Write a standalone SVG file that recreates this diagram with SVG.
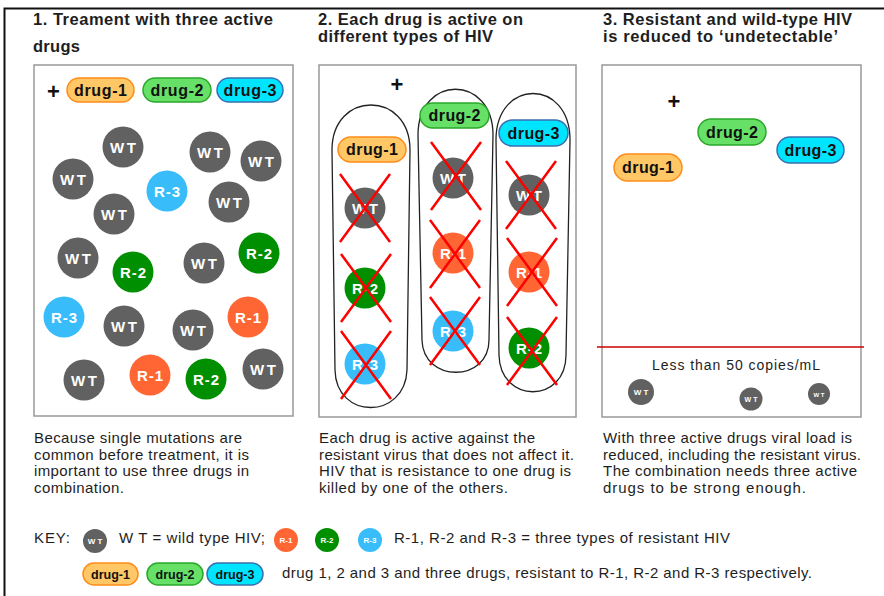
<svg xmlns="http://www.w3.org/2000/svg" width="884" height="596" viewBox="0 0 884 596">
<style>
text{font-family:"Liberation Sans",Arial,sans-serif;fill:#1e1e1e}
.title{font-size:16.5px;font-weight:bold}
.body{font-size:15px}
.box{fill:#fff;stroke:#999;stroke-width:1.5}
.wt{fill:#616161}
.r1{fill:#FF6633}
.r2{fill:#008F00}
.r3{fill:#38BDFA}
.cl{font-size:15px;font-weight:bold;fill:#fff;text-anchor:middle}
.ck{font-size:8px;font-weight:bold;fill:#fff;text-anchor:middle}
.d1{fill:#FFC766;stroke:#FF8C1A;stroke-width:1.5}
.d2{fill:#66E066;stroke:#2BA82B;stroke-width:1.5}
.d3{fill:#00E5FF;stroke:#3A6FB0;stroke-width:1.5}
.dl{font-size:16px;font-weight:bold;text-anchor:middle;fill:#111}
.dk{font-size:12.5px;font-weight:bold;text-anchor:middle;fill:#111}
.plus{font-size:22px;font-weight:bold;text-anchor:middle;fill:#111}
.x{stroke:#FF0000;stroke-width:2.5;fill:none}
.col{fill:none;stroke:#222;stroke-width:1.3}
</style>
<defs>
<path id="xm" d="M-25,-34 L25,34 M25,-34 L-25,34"/>
</defs>

<path d="M4.5,596 V8.5 H884" fill="none" stroke="#111" stroke-width="2"/>

<g id="titles">
<text class="title" x="33" y="25" textLength="240" lengthAdjust="spacing">1. Treament with three active</text>
<text class="title" x="33" y="52" textLength="47" lengthAdjust="spacing">drugs</text>
<text class="title" x="318" y="25" textLength="205" lengthAdjust="spacing">2. Each drug is active on</text>
<text class="title" x="318" y="42" textLength="175" lengthAdjust="spacing">different types of HIV</text>
<text class="title" x="603" y="25" textLength="249" lengthAdjust="spacing">3. Resistant and wild-type HIV</text>
<text class="title" x="603" y="42" textLength="235" lengthAdjust="spacing">is reduced to ‘undetectable’</text>
</g>

<!-- Panel 1 -->
<g id="panel1">
<rect class="box" x="34" y="65" width="259" height="351"/>
<text class="plus" x="53.5" y="99">+</text>
<g id="p1-drug1"><rect class="d1" x="67" y="78" width="67" height="24" rx="12"/><text class="dl" x="100.5" y="95.5" textLength="53" lengthAdjust="spacing">drug-1</text></g>
<g id="p1-drug2"><rect class="d2" x="143" y="78" width="68" height="24" rx="12"/><text class="dl" x="177" y="95.5" textLength="53" lengthAdjust="spacing">drug-2</text></g>
<g id="p1-drug3"><rect class="d3" x="217" y="78" width="66" height="24" rx="12"/><text class="dl" x="250" y="95.5" textLength="53" lengthAdjust="spacing">drug-3</text></g>
<g id="p1-v1"><circle class="wt" cx="123" cy="147" r="20.5"/><text class="cl" x="123" y="152.5" textLength="26">W T</text></g>
<g id="p1-v2"><circle class="wt" cx="73" cy="179" r="20.5"/><text class="cl" x="73" y="184.5" textLength="26">W T</text></g>
<g id="p1-v3"><circle class="r3" cx="167" cy="191" r="20.5"/><text class="cl" x="167" y="196.5" textLength="26">R-3</text></g>
<g id="p1-v4"><circle class="wt" cx="210" cy="152" r="20.5"/><text class="cl" x="210" y="157.5" textLength="26">W T</text></g>
<g id="p1-v5"><circle class="wt" cx="261" cy="161" r="20.5"/><text class="cl" x="261" y="166.5" textLength="26">W T</text></g>
<g id="p1-v6"><circle class="wt" cx="229" cy="202" r="20.5"/><text class="cl" x="229" y="207.5" textLength="26">W T</text></g>
<g id="p1-v7"><circle class="wt" cx="114" cy="214" r="20.5"/><text class="cl" x="114" y="219.5" textLength="26">W T</text></g>
<g id="p1-v8"><circle class="wt" cx="78" cy="258" r="20.5"/><text class="cl" x="78" y="263.5" textLength="26">W T</text></g>
<g id="p1-v9"><circle class="r2" cx="133" cy="272" r="20.5"/><text class="cl" x="133" y="277.5" textLength="26">R-2</text></g>
<g id="p1-v10"><circle class="wt" cx="204" cy="263" r="20.5"/><text class="cl" x="204" y="268.5" textLength="26">W T</text></g>
<g id="p1-v11"><circle class="r2" cx="259" cy="253" r="20.5"/><text class="cl" x="259" y="258.5" textLength="26">R-2</text></g>
<g id="p1-v12"><circle class="r3" cx="64" cy="317" r="20.5"/><text class="cl" x="64" y="322.5" textLength="26">R-3</text></g>
<g id="p1-v13"><circle class="wt" cx="124" cy="326" r="20.5"/><text class="cl" x="124" y="331.5" textLength="26">W T</text></g>
<g id="p1-v14"><circle class="wt" cx="193" cy="330" r="20.5"/><text class="cl" x="193" y="335.5" textLength="26">W T</text></g>
<g id="p1-v15"><circle class="r1" cx="248" cy="317" r="20.5"/><text class="cl" x="248" y="322.5" textLength="26">R-1</text></g>
<g id="p1-v16"><circle class="wt" cx="84" cy="380" r="20.5"/><text class="cl" x="84" y="385.5" textLength="26">W T</text></g>
<g id="p1-v17"><circle class="r1" cx="150" cy="375" r="20.5"/><text class="cl" x="150" y="380.5" textLength="26">R-1</text></g>
<g id="p1-v18"><circle class="r2" cx="206" cy="379" r="20.5"/><text class="cl" x="206" y="384.5" textLength="26">R-2</text></g>
<g id="p1-v19"><circle class="wt" cx="263" cy="369" r="20.5"/><text class="cl" x="263" y="374.5" textLength="26">W T</text></g>
</g>

<!-- Panel 2 -->
<g id="panel2">
<rect class="box" x="319" y="65" width="257" height="352"/>
<text class="plus" x="397" y="92">+</text>
<g id="p2-col1">
<path class="col" d="M332,150 C332,90 410,90 410,150 L407,370 C405,420 336,420 335,370 Z"/>
<rect class="d1" x="338" y="137" width="68" height="25" rx="12.5"/><text class="dl" x="372" y="155" textLength="52" lengthAdjust="spacing">drug-1</text>
<circle class="wt" cx="365" cy="208" r="20.5"/><text class="cl" x="365" y="213.5" textLength="26">W T</text>
<circle class="r2" cx="365" cy="288" r="20.5"/><text class="cl" x="365" y="293.5" textLength="26">R-2</text>
<circle class="r3" cx="365" cy="364" r="20.5"/><text class="cl" x="365" y="369.5" textLength="26">R-3</text>
<use href="#xm" class="x" x="365" y="208"/>
<use href="#xm" class="x" x="366" y="288"/>
<use href="#xm" class="x" x="366" y="365"/>
</g>
<g id="p2-col2">
<path class="col" d="M418,135 C418,74 493,74 493,135 L489,340 C489,383 423,383 422,340 Z"/>
<rect class="d2" x="420" y="103" width="69" height="25" rx="12.5"/><text class="dl" x="454.5" y="121" textLength="52" lengthAdjust="spacing">drug-2</text>
<circle class="wt" cx="453" cy="178" r="20.5"/><text class="cl" x="453" y="183.5" textLength="26">W T</text>
<circle class="r1" cx="453" cy="253" r="20.5"/><text class="cl" x="453" y="258.5" textLength="26">R-1</text>
<circle class="r3" cx="453" cy="331" r="20.5"/><text class="cl" x="453" y="336.5" textLength="26">R-3</text>
<use href="#xm" class="x" x="456" y="176"/>
<use href="#xm" class="x" x="455" y="254"/>
<use href="#xm" class="x" x="455" y="331"/>
</g>
<g id="p2-col3">
<path class="col" d="M496,140 C496,78 570,78 570,140 L566,355 C566,404 500,404 499,355 Z"/>
<rect class="d3" x="499" y="120" width="69" height="26" rx="13"/><text class="dl" x="533.5" y="138.5" textLength="52" lengthAdjust="spacing">drug-3</text>
<circle class="wt" cx="529" cy="195" r="20.5"/><text class="cl" x="529" y="200.5" textLength="26">W T</text>
<circle class="r1" cx="529" cy="272" r="20.5"/><text class="cl" x="529" y="277.5" textLength="26">R-1</text>
<circle class="r2" cx="529" cy="348" r="20.5"/><text class="cl" x="529" y="353.5" textLength="26">R-2</text>
<use href="#xm" class="x" x="531" y="195"/>
<use href="#xm" class="x" x="532" y="272"/>
<use href="#xm" class="x" x="532" y="351"/>
</g>
</g>

<!-- Panel 3 -->
<g id="panel3">
<rect class="box" x="602" y="65" width="259" height="352"/>
<text class="plus" x="674" y="109">+</text>
<g id="p3-drug2"><rect class="d2" x="698" y="119" width="68" height="26" rx="13"/><text class="dl" x="732" y="137.5" textLength="52" lengthAdjust="spacing">drug-2</text></g>
<g id="p3-drug3"><rect class="d3" x="777" y="137" width="67" height="26" rx="13"/><text class="dl" x="810.5" y="155.5" textLength="52" lengthAdjust="spacing">drug-3</text></g>
<g id="p3-drug1"><rect class="d1" x="614" y="154" width="68" height="27" rx="13.5"/><text class="dl" x="648" y="173" textLength="52" lengthAdjust="spacing">drug-1</text></g>
<line x1="597" y1="347" x2="864" y2="347" stroke="#CC0000" stroke-width="1.5"/>
<text x="736" y="370" font-size="14" text-anchor="middle" textLength="168" lengthAdjust="spacing">Less than 50 copies/mL</text>
<g id="p3-v1"><circle class="wt" cx="641" cy="392" r="13"/><text class="ck" x="641" y="395">W T</text></g>
<g id="p3-v2"><circle class="wt" cx="751" cy="399" r="11.5"/><text class="ck" x="751" y="402" style="font-size:7px">W T</text></g>
<g id="p3-v3"><circle class="wt" cx="819" cy="394" r="11"/><text class="ck" x="819" y="396.5" style="font-size:6px">W T</text></g>
</g>

<!-- Body text -->
<g id="text1">
<text class="body" x="34" y="443" textLength="208" lengthAdjust="spacing">Because single mutations are</text>
<text class="body" x="34" y="459.5" textLength="215" lengthAdjust="spacing">common before treatment, it is</text>
<text class="body" x="34" y="476" textLength="215" lengthAdjust="spacing">important to use three drugs in</text>
<text class="body" x="34" y="492.5" textLength="90" lengthAdjust="spacing">combination.</text>
</g>
<g id="text2">
<text class="body" x="319" y="443" textLength="216" lengthAdjust="spacing">Each drug is active against the</text>
<text class="body" x="319" y="459.5" textLength="255" lengthAdjust="spacing">resistant virus that does not affect it.</text>
<text class="body" x="319" y="476" textLength="252" lengthAdjust="spacing">HIV that is resistance to one drug is</text>
<text class="body" x="319" y="492.5" textLength="189" lengthAdjust="spacing">killed by one of the others.</text>
</g>
<g id="text3">
<text class="body" x="603" y="443" textLength="249" lengthAdjust="spacing">With three active drugs viral load is</text>
<text class="body" x="603" y="459.5" textLength="258" lengthAdjust="spacing">reduced, including the resistant virus.</text>
<text class="body" x="603" y="476" textLength="254" lengthAdjust="spacing">The combination needs three active</text>
<text class="body" x="603" y="492.5" textLength="203" lengthAdjust="spacing">drugs to be strong enough.</text>
</g>

<!-- Key -->
<g id="key">
<text class="body" x="34" y="543" textLength="36" lengthAdjust="spacing">KEY:</text>
<g id="key-wt"><circle class="wt" cx="95" cy="541" r="12"/><text class="ck" x="95" y="544">W T</text></g>
<text class="body" x="119" y="543" textLength="146" lengthAdjust="spacing">W T = wild type HIV;</text>
<g id="key-r1"><circle class="r1" cx="286" cy="540" r="12"/><text class="ck" x="286" y="543">R-1</text></g>
<g id="key-r2"><circle class="r2" cx="327" cy="540" r="12"/><text class="ck" x="327" y="543">R-2</text></g>
<g id="key-r3"><circle class="r3" cx="370" cy="540" r="12"/><text class="ck" x="370" y="543">R-3</text></g>
<text class="body" x="394" y="543" textLength="336" lengthAdjust="spacing">R-1, R-2 and R-3 = three types of  resistant HIV</text>
<g id="key-d1"><rect class="d1" x="83" y="563" width="55" height="22" rx="11"/><text class="dk" x="110.5" y="578.5" textLength="39" lengthAdjust="spacing">drug-1</text></g>
<g id="key-d2"><rect class="d2" x="147" y="563" width="56" height="22" rx="11"/><text class="dk" x="175" y="578.5" textLength="39" lengthAdjust="spacing">drug-2</text></g>
<g id="key-d3"><rect class="d3" x="207" y="563" width="56" height="22" rx="11"/><text class="dk" x="235" y="578.5" textLength="39" lengthAdjust="spacing">drug-3</text></g>
<text class="body" x="282" y="578" textLength="530" lengthAdjust="spacing">drug 1, 2 and 3 and three drugs, resistant to R-1, R-2 and R-3 respectively.</text>
</g>
</svg>
